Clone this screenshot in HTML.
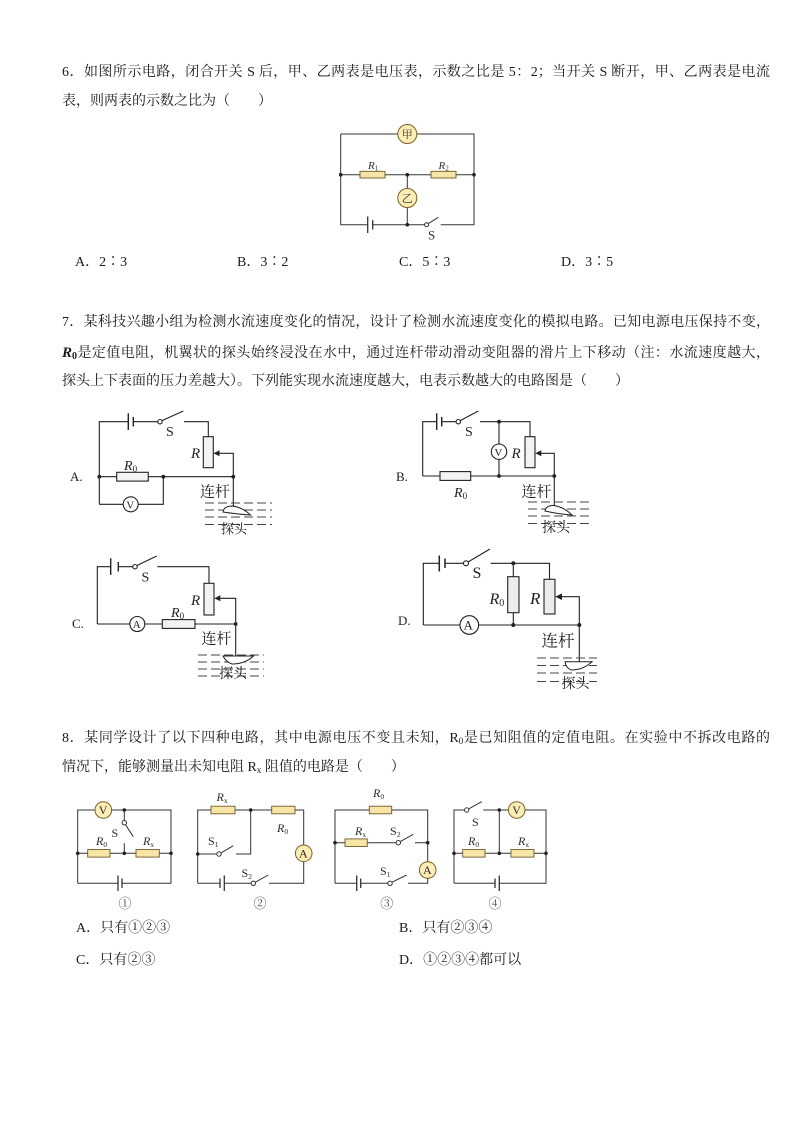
<!DOCTYPE html>
<html><head><meta charset="utf-8">
<style>
html,body{margin:0;padding:0;background:#fff;}
body{width:794px;height:1123px;position:relative;overflow:hidden;font-family:"Liberation Serif","Noto Serif CJK SC",serif;color:#1a1a1a;}
.t{position:absolute;font-size:14px;line-height:20px;white-space:nowrap;}
.j{white-space:normal;width:708px;text-align:justify;text-align-last:justify;height:20px;overflow:visible;}
.t sub{font-size:9px;vertical-align:-2px;line-height:0;}
svg{position:absolute;left:0;top:0;font-family:"Liberation Serif","Noto Serif CJK SC",serif;}
</style></head><body>

<div class="t j" style="left:62px;top:63px">6．如图所示电路，闭合开关 S 后，甲、乙两表是电压表，示数之比是 5：2；当开关 S 断开，甲、乙两表是电流</div>
<div class="t" style="left:62px;top:92px">表，则两表的示数之比为（　　）</div>

<div class="t" style="left:75px;top:253px">A．2∶3</div>
<div class="t" style="left:237px;top:253px">B．3∶2</div>
<div class="t" style="left:399px;top:253px">C．5∶3</div>
<div class="t" style="left:561px;top:253px">D．3∶5</div>

<div class="t j" style="left:62px;top:313px">7．某科技兴趣小组为检测水流速度变化的情况，设计了检测水流速度变化的模拟电路。已知电源电压保持不变，</div>
<div class="t j" style="left:62px;top:343px"><b style="font-style:italic;font-size:15px">R<sub style="font-style:normal;font-size:10px">0</sub></b>是定值电阻，机翼状的探头始终浸没在水中，通过连杆带动滑动变阻器的滑片上下移动（注：水流速度越大，</div>
<div class="t" style="left:62px;top:372px">探头上下表面的压力差越大）。下列能实现水流速度越大，电表示数越大的电路图是（　　）</div>

<div class="t j" style="left:62px;top:729px">8．某同学设计了以下四种电路，其中电源电压不变且未知，R<sub>0</sub>是已知阻值的定值电阻。在实验中不拆改电路的</div>
<div class="t" style="left:62px;top:758px">情况下，能够测量出未知电阻 R<sub>x</sub> 阻值的电路是（　　）</div>

<div class="t" style="left:76px;top:919px">A．只有①②③</div>
<div class="t" style="left:399px;top:919px">B．只有②③④</div>
<div class="t" style="left:76px;top:951px">C．只有②③</div>
<div class="t" style="left:399px;top:951px">D．①②③④都可以</div>

<svg width="794" height="1123" viewBox="0 0 794 1123" xmlns="http://www.w3.org/2000/svg">
<!-- ===== Q6 diagram ===== -->
<g fill="none" stroke="#333" stroke-width="1">
<path d="M340.7,134 H397.8 M416.8,134 H474 V224.7 H440.7 M340.7,134 V224.7 H367.7 M372.7,224.7 H424.6 M428.4,223.6 L438.3,217.3 M340.7,174.7 H360 M385,174.7 H431 M456,174.7 H474 M407.3,174.7 V188.5 M407.3,207.5 V224.7"/>
<path d="M367.7,216.5 V233 M372.7,220 V229.5" stroke-width="1.3"/>
<circle cx="426.6" cy="224.7" r="2" fill="#fff"/>
</g>
<g stroke="#6e5a2a" stroke-width="0.9" fill="#f7e5a6">
<rect x="360" y="171.3" width="25" height="6.7"/>
<rect x="431" y="171.3" width="25" height="6.7"/>
</g>
<g stroke="#7d6224" stroke-width="1" fill="#fbeeb4">
<circle cx="407.3" cy="134" r="9.5"/>
<circle cx="407.3" cy="198" r="9.5"/>
</g>
<g fill="#222">
<circle cx="340.7" cy="174.7" r="1.8"/><circle cx="407.3" cy="174.7" r="1.8"/><circle cx="474" cy="174.7" r="1.8"/><circle cx="407.3" cy="224.7" r="1.8"/>
</g>
<g fill="#333">
<text x="407.3" y="138" font-size="11" text-anchor="middle">甲</text>
<text x="407.3" y="202" font-size="11" text-anchor="middle">乙</text>
<text x="368" y="169" font-size="11" font-style="italic">R<tspan font-size="7" dy="1.5" font-style="normal">1</tspan></text>
<text x="438.5" y="169" font-size="11" font-style="italic">R<tspan font-size="7" dy="1.5" font-style="normal">2</tspan></text>
<text x="428" y="239.5" font-size="13">S</text>
</g>

<!-- ===== Q7 A ===== -->
<g fill="none" stroke="#222" stroke-width="1.1">
<path d="M99.3,504.3 V421.7 H128.3 M133.3,421.7 H157.8 M162,420.6 L183.3,411 M184,421.7 H208.3 V436.7 M233.3,476.7 V453.3 H219 M99.3,476.7 H116.7 M148.3,476.7 H233.3 M99.3,504.3 H123.2 M138.2,504.3 H163.3 V476.7 M233.3,476.7 V506.5"/>
<path d="M128.3,413.3 V430 M133.3,417 V426.5" stroke-width="1.4"/>
<circle cx="160" cy="421.7" r="2.2" fill="#fff"/>
<circle cx="130.7" cy="504.3" r="7.5" fill="#fff"/>
<rect x="203.3" y="436.7" width="10" height="31" fill="#f3f3f3"/>
<rect x="116.7" y="472.3" width="31.6" height="8.8" fill="#f3f3f3"/>
</g>
<polygon points="213.5,453.3 219.5,450.3 219.5,456.3" fill="#222"/>
<g fill="#222"><circle cx="99.3" cy="476.7" r="1.9"/><circle cx="163.3" cy="476.7" r="1.9"/><circle cx="233.3" cy="476.7" r="1.9"/></g>
<g stroke="#444" stroke-width="1" stroke-dasharray="9 4" fill="none">
<path d="M205,503 H272 M205,510 H272 M205,517 H272 M205,524.5 H272"/>
</g>
<path d="M223,512 Q224,506 232,506 Q242,507 250.5,515 Q236,514 223,512 Z" fill="#fff" stroke="#222" stroke-width="1"/>
<g fill="#222">
<text x="70" y="481" font-size="13">A.</text>
<text x="166" y="436" font-size="14">S</text>
<text x="191" y="458" font-size="15" font-style="italic">R</text>
<text x="124" y="470" font-size="14" font-style="italic">R<tspan font-size="9" dy="2" font-style="normal">0</tspan></text>
<text x="126.2" y="508.3" font-size="11">V</text>
<text x="200" y="496.5" font-size="15">连杆</text>
<text x="221" y="533.5" font-size="13">探头</text>
</g>

<!-- ===== Q7 B ===== -->
<g fill="none" stroke="#222" stroke-width="1.1">
<path d="M422.7,476 V421.7 H436.7 M441.7,421.7 H456.1 M460.2,420.6 L478.3,411 M480,421.7 H530 V436.7 M499,421.7 V444 M499,459.4 V476 M554.3,476 V453.3 H541 M422.7,476 H440 M470.7,476 H554.3 M554.3,476 V506.5"/>
<path d="M436.7,413.3 V430 M441.7,417 V426.5" stroke-width="1.4"/>
<circle cx="458.3" cy="421.7" r="2.2" fill="#fff"/>
<circle cx="499" cy="451.7" r="7.7" fill="#fff"/>
<rect x="525" y="436.7" width="10" height="31" fill="#f3f3f3"/>
<rect x="440" y="471.6" width="30.7" height="8.8" fill="#f3f3f3"/>
</g>
<polygon points="535.3,453.3 541.3,450.3 541.3,456.3" fill="#222"/>
<g fill="#222"><circle cx="499" cy="421.7" r="1.9"/><circle cx="499" cy="476" r="1.9"/><circle cx="554.3" cy="476" r="1.9"/></g>
<g stroke="#444" stroke-width="1" stroke-dasharray="9 4" fill="none">
<path d="M528,502 H592 M528,509 H592 M528,516 H592 M528,523.5 H592"/>
</g>
<path d="M545,511 Q546,505 554,505.5 Q564,507 572,515 Q558,514 545,511 Z" fill="#fff" stroke="#222" stroke-width="1"/>
<g fill="#222">
<text x="396" y="481" font-size="13">B.</text>
<text x="465" y="436" font-size="14">S</text>
<text x="511.5" y="458" font-size="15" font-style="italic">R</text>
<text x="454" y="497" font-size="14" font-style="italic">R<tspan font-size="9" dy="2" font-style="normal">0</tspan></text>
<text x="494.4" y="455.8" font-size="11">V</text>
<text x="521.5" y="496.5" font-size="15">连杆</text>
<text x="542" y="531.8" font-size="14">探头</text>
</g>

<!-- ===== Q7 C ===== -->
<g fill="none" stroke="#222" stroke-width="1.1">
<path d="M97.3,624 V566.7 H110.7 M118.3,566.7 H132.8 M137,565.5 L156.7,556 M157.3,566.7 H209 V583.3 M235.7,624 V598.3 H220 M97.3,624 H129.8 M144.8,624 H162.3 M195,624 H235.7 M235.7,624 V656"/>
<path d="M110.7,558.3 V575 M118.3,562 V571.5" stroke-width="1.4"/>
<circle cx="135" cy="566.7" r="2.2" fill="#fff"/>
<circle cx="137.3" cy="624" r="7.5" fill="#fff"/>
<rect x="204" y="583.3" width="10" height="31.7" fill="#f3f3f3"/>
<rect x="162.3" y="619.6" width="32.7" height="8.8" fill="#f3f3f3"/>
</g>
<polygon points="214.3,598.3 220.3,595.3 220.3,601.3" fill="#222"/>
<g fill="#222"><circle cx="235.7" cy="624" r="1.9"/></g>
<g stroke="#444" stroke-width="1" stroke-dasharray="9 4" fill="none">
<path d="M198,655 H264 M198,662 H264 M198,669 H264 M198,676 H264"/>
</g>
<path d="M223,656 H253.5 Q245,664 232,664 Q226,662 223,656 Z" fill="#fff" stroke="#222" stroke-width="1"/>
<g fill="#222">
<text x="72" y="628" font-size="13">C.</text>
<text x="141.5" y="581.5" font-size="14">S</text>
<text x="191" y="605" font-size="15" font-style="italic">R</text>
<text x="171" y="617" font-size="14" font-style="italic">R<tspan font-size="9" dy="2" font-style="normal">0</tspan></text>
<text x="132.7" y="628.2" font-size="11">A</text>
<text x="201.5" y="643.3" font-size="15">连杆</text>
<text x="219" y="678" font-size="14">探头</text>
</g>

<!-- ===== Q7 D ===== -->
<g fill="none" stroke="#222" stroke-width="1.1">
<path d="M423.3,625 V563.3 H439.3 M445,563.3 H463.8 M468,562 L490,549 M490.7,563.3 H549.5 V579.3 M513.3,563.3 V576.7 M513.3,612.7 V625 M579.3,625 V596.7 H561 M423.3,625 H460 M478.6,625 H579.3 M579.3,625 V661.7"/>
<path d="M439.3,555.5 V571.5 M445,558.5 V568" stroke-width="1.5"/>
<circle cx="466" cy="563.3" r="2.5" fill="#fff"/>
<circle cx="469.3" cy="625" r="9.3" fill="#fff"/>
<rect x="507.7" y="576.7" width="11.3" height="36" fill="#ececec"/>
<rect x="544" y="579.3" width="11" height="34.7" fill="#ececec"/>
</g>
<polygon points="555.3,596.7 562,593.4 562,600" fill="#222"/>
<g fill="#222"><circle cx="513.3" cy="563.3" r="2"/><circle cx="513.3" cy="625" r="2"/><circle cx="579.3" cy="625" r="2"/></g>
<g stroke="#444" stroke-width="1" stroke-dasharray="9 4" fill="none">
<path d="M537,658 H597 M537,665.5 H597 M537,673 H597 M537,681.5 H597"/>
</g>
<path d="M565,661.7 H592 Q583,670 571,670 Q566,668 565,661.7 Z" fill="#fff" stroke="#222" stroke-width="1"/>
<g fill="#222">
<text x="398" y="625" font-size="13">D.</text>
<text x="472.5" y="578" font-size="16">S</text>
<text x="530" y="604" font-size="17" font-style="italic">R</text>
<text x="489.5" y="604" font-size="16" font-style="italic">R<tspan font-size="10" dy="2" font-style="normal">0</tspan></text>
<text x="463.5" y="629.5" font-size="13">A</text>
<text x="541.5" y="646.3" font-size="16.5">连杆</text>
<text x="561.5" y="688" font-size="14">探头</text>
</g>

<!-- ===== Q8 circuits ===== -->
<g fill="none" stroke="#333" stroke-width="1">
<path d="M77.7,883.3 V810 H95 M111.6,810 H171 V883.3 H122 M77.7,883.3 H118 M77.7,853.3 H87.7 M110,853.3 H136 M159.3,853.3 H171 M124.3,810 V820.5 M125.4,824.6 L133.3,836.7 M124.3,843.3 V853.3"/>
<path d="M118,875.5 V891 M122,878.5 V888" stroke-width="1.3"/>
<circle cx="124.3" cy="822.7" r="2.2" fill="#fff"/>
<path d="M197.7,883.3 V810 H211 M235,810 H271.7 M295,810 H303.7 V845 M303.7,861.6 V883.3 H269 M197.7,883.3 H220 M224.3,883.3 H251.1 M255.3,882.2 L268.3,875 M197.7,854 H216.8 M221,852.9 L233.3,845.7 M236,854 H250.7 V810"/>
<path d="M220,878.5 V888 M224.3,875.5 V891" stroke-width="1.3"/>
<circle cx="253.3" cy="883.3" r="2.2" fill="#fff"/>
<circle cx="219" cy="854" r="2.2" fill="#fff"/>
<path d="M335,883.3 V810 H369.3 M391.7,810 H427.7 V861.7 M427.7,878.3 V883.3 H408 M335,842.7 H345 M367.3,842.7 H396.1 M400.3,841.6 L413.3,834.3 M415,842.7 H427.7 M335,883.3 H356.7 M360.7,883.3 H387.8 M392,882.2 L406.7,875"/>
<path d="M356.7,875.5 V891 M360.7,878.5 V888" stroke-width="1.3"/>
<circle cx="398.3" cy="842.7" r="2.2" fill="#fff"/>
<circle cx="390" cy="883.3" r="2.2" fill="#fff"/>
<path d="M454,883.3 V810 H464.5 M468.6,808.9 L481.7,801.7 M483.3,810 H508.4 M525,810 H546 V883.3 H499.3 M495,883.3 H454 M499.3,810 V853.3 M454,853.3 H462.7 M485,853.3 H511 M534,853.3 H546"/>
<path d="M495,878.5 V888 M499.3,875.5 V891" stroke-width="1.3"/>
<circle cx="466.7" cy="810" r="2.2" fill="#fff"/>
</g>
<g stroke="#6e5a2a" stroke-width="0.9" fill="#f7e5a6">
<rect x="87.7" y="849.5" width="22.3" height="7.6"/>
<rect x="136" y="849.5" width="23.3" height="7.6"/>
<rect x="211" y="806.2" width="24" height="7.6"/>
<rect x="271.7" y="806.2" width="23.3" height="7.6"/>
<rect x="369.3" y="806.2" width="22.4" height="7.6"/>
<rect x="345" y="838.9" width="22.3" height="7.6"/>
<rect x="462.7" y="849.5" width="22.3" height="7.6"/>
<rect x="511" y="849.5" width="23" height="7.6"/>
</g>
<g stroke="#7d6224" stroke-width="1" fill="#fbeeb4">
<circle cx="103.3" cy="810" r="8.3"/>
<circle cx="303.7" cy="853.3" r="8.3"/>
<circle cx="427.7" cy="870" r="8.3"/>
<circle cx="516.7" cy="810" r="8.3"/>
</g>
<g fill="#222">
<circle cx="124.3" cy="810" r="1.8"/><circle cx="77.7" cy="853.3" r="1.8"/><circle cx="124.3" cy="853.3" r="1.8"/><circle cx="171" cy="853.3" r="1.8"/>
<circle cx="250.7" cy="810" r="1.8"/><circle cx="197.7" cy="854" r="1.8"/>
<circle cx="335" cy="842.7" r="1.8"/><circle cx="427.7" cy="842.7" r="1.8"/>
<circle cx="499.3" cy="810" r="1.8"/><circle cx="454" cy="853.3" r="1.8"/><circle cx="499.3" cy="853.3" r="1.8"/><circle cx="546" cy="853.3" r="1.8"/>
</g>
<g fill="#2a2a2a" font-size="12">
<text x="98.8" y="814.2" font-size="12">V</text>
<text x="299" y="857.5" font-size="12">A</text>
<text x="423" y="874.2" font-size="12">A</text>
<text x="512.2" y="814.2" font-size="12">V</text>
<text x="111.5" y="837">S</text>
<text x="96" y="845" font-style="italic">R<tspan font-size="7.5" dy="2" font-style="normal">0</tspan></text>
<text x="143" y="845" font-style="italic">R<tspan font-size="7.5" dy="2" font-style="normal">x</tspan></text>
<text x="216.5" y="801" font-style="italic">R<tspan font-size="7.5" dy="2" font-style="normal">x</tspan></text>
<text x="277" y="832" font-style="italic">R<tspan font-size="7.5" dy="2" font-style="normal">0</tspan></text>
<text x="208" y="845">S<tspan font-size="7.5" dy="2">1</tspan></text>
<text x="241.5" y="877">S<tspan font-size="7.5" dy="2">2</tspan></text>
<text x="373" y="797" font-style="italic">R<tspan font-size="7.5" dy="2" font-style="normal">0</tspan></text>
<text x="355" y="835" font-style="italic">R<tspan font-size="7.5" dy="2" font-style="normal">x</tspan></text>
<text x="390" y="835">S<tspan font-size="7.5" dy="2">2</tspan></text>
<text x="380" y="875">S<tspan font-size="7.5" dy="2">1</tspan></text>
<text x="472" y="826">S</text>
<text x="468" y="845" font-style="italic">R<tspan font-size="7.5" dy="2" font-style="normal">0</tspan></text>
<text x="518" y="845" font-style="italic">R<tspan font-size="7.5" dy="2" font-style="normal">x</tspan></text>
</g>
<g fill="#444" font-size="13" text-anchor="middle">
<text x="125" y="908">①</text>
<text x="260" y="908">②</text>
<text x="386.7" y="908">③</text>
<text x="495" y="908">④</text>
</g>
</svg>
</body></html>
